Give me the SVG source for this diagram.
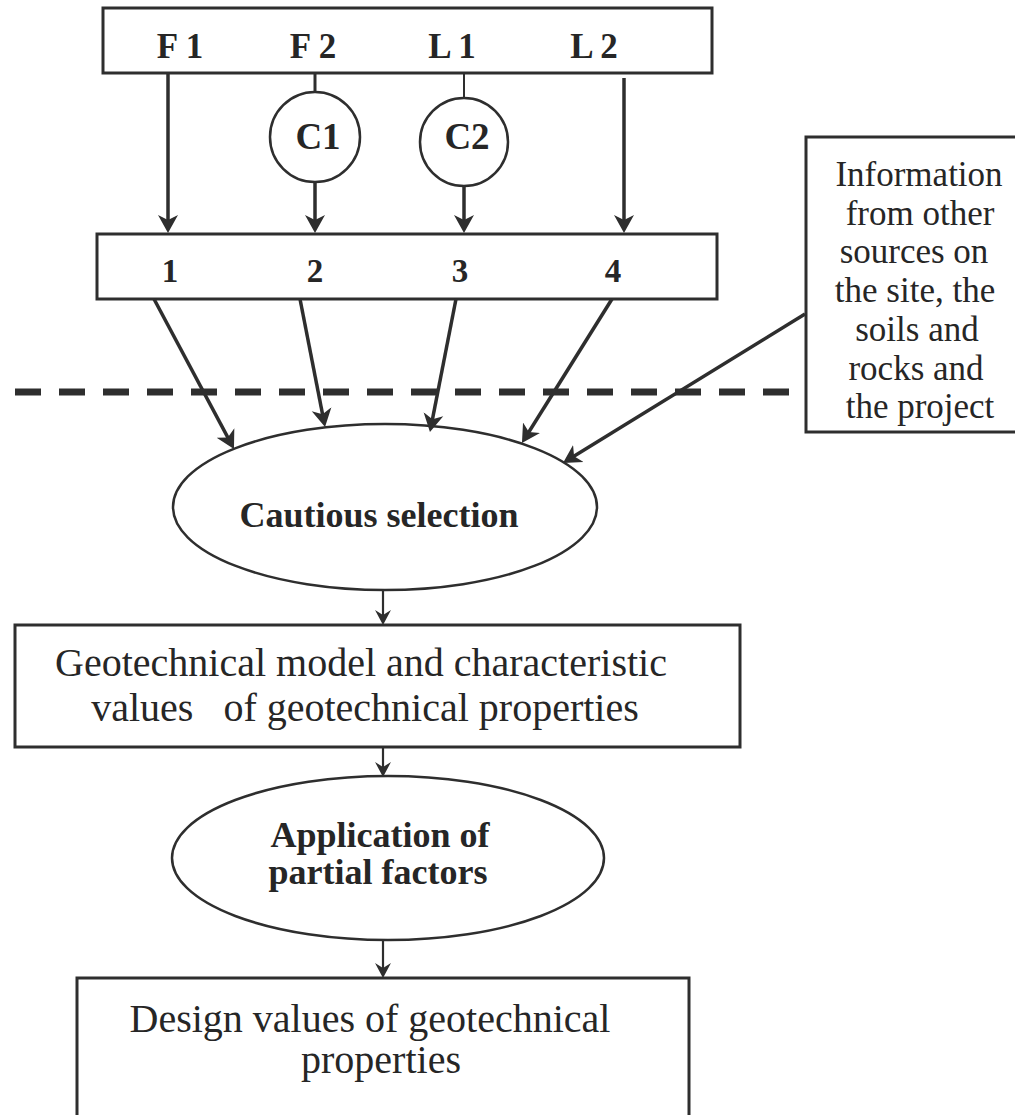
<svg xmlns="http://www.w3.org/2000/svg" width="1015" height="1115" viewBox="0 0 1015 1115">
<style>
.box{fill:#fff;stroke:#2e2e2e;stroke-width:3}
.shape{fill:#fff;stroke:#2e2e2e;stroke-width:2.5}
.t{font-family:"Liberation Serif","Times New Roman",serif;fill:#262626;text-anchor:middle}
.b{font-weight:bold}
.big{stroke:#2e2e2e;stroke-width:3.5;fill:none;marker-end:url(#ah)}
.small{stroke:#2e2e2e;stroke-width:2.2;fill:none;marker-end:url(#as)}
.ln{stroke:#2e2e2e;fill:none}
</style>
<defs>
<marker id="ah" markerUnits="userSpaceOnUse" markerWidth="20" markerHeight="22" viewBox="0 -11 20 22" refX="10" refY="0" orient="auto">
<path d="M0,-10 L18,0 L0,10 L5,0 z" fill="#2e2e2e"/>
</marker>
<marker id="as" markerUnits="userSpaceOnUse" markerWidth="18" markerHeight="18" viewBox="0 -9 18 18" refX="9" refY="0" orient="auto">
<path d="M0,-8 L15,0 L0,8 L5,0 z" fill="#2e2e2e"/>
</marker>
</defs>

<g id="top-box">
<rect class="box" x="103" y="8" width="609" height="65"/>
<text class="t b" x="180" y="58" font-size="35">F 1</text>
<text class="t b" x="313" y="58" font-size="35">F 2</text>
<text class="t b" x="452" y="58" font-size="35">L 1</text>
<text class="t b" x="594" y="58" font-size="35">L 2</text>
</g>

<g id="c1">
<circle class="shape" cx="315" cy="137" r="45"/>
<text class="t b" x="318" y="149" font-size="37">C1</text>
</g>
<g id="c2">
<circle class="shape" cx="464" cy="142" r="44"/>
<text class="t b" x="467" y="149" font-size="37">C2</text>
</g>

<g id="mid-box">
<rect class="box" x="97" y="234" width="620" height="65"/>
<text class="t b" x="170" y="282" font-size="33">1</text>
<text class="t b" x="315" y="282" font-size="33">2</text>
<text class="t b" x="460" y="282" font-size="33">3</text>
<text class="t b" x="613" y="282" font-size="33">4</text>
</g>

<g id="info-box">
<rect class="box" x="806" y="137" width="215" height="295"/>
<text class="t" x="919" y="186" font-size="35">Information</text>
<text class="t" x="920" y="224.7" font-size="35">from other</text>
<text class="t" x="914" y="263.4" font-size="35">sources on</text>
<text class="t" x="915" y="302" font-size="35">the site, the</text>
<text class="t" x="917" y="340.8" font-size="35">soils and</text>
<text class="t" x="916" y="379.5" font-size="35">rocks and</text>
<text class="t" x="920" y="418" font-size="35">the project</text>
</g>

<g id="cautious">
<ellipse class="shape" cx="385" cy="507" rx="212" ry="83"/>
<text class="t b" x="379" y="527" font-size="36">Cautious selection</text>
</g>

<g id="geo-model">
<rect class="box" x="15" y="625" width="725" height="122"/>
<text class="t" x="361" y="676" font-size="40">Geotechnical model and characteristic</text>
<text class="t" x="365" y="721" font-size="40" xml:space="preserve">values   of geotechnical properties</text>
</g>

<g id="partial">
<ellipse class="shape" cx="388" cy="858" rx="216" ry="82"/>
<text class="t b" x="380" y="847" font-size="36">Application of</text>
<text class="t b" x="378" y="884" font-size="36">partial factors</text>
</g>

<g id="design">
<rect class="box" x="77" y="978" width="612" height="160"/>
<text class="t" x="370" y="1032" font-size="40">Design values of geotechnical</text>
<text class="t" x="381" y="1073" font-size="40">properties</text>
</g>

<g id="connectors">
<line class="big" x1="168" y1="73" x2="168" y2="225"/>
<line class="ln" stroke-width="3" x1="315" y1="73" x2="315" y2="92"/>
<line class="big" x1="315" y1="182" x2="315" y2="225"/>
<line class="ln" stroke-width="2" x1="464" y1="73" x2="464" y2="98"/>
<line class="big" stroke-width="2.6" x1="464" y1="186" x2="464" y2="225"/>
<line class="big" stroke-width="2.6" x1="624" y1="78" x2="624" y2="225"/>
<line class="big" x1="154" y1="299" x2="230.2" y2="441.9"/>
<line class="big" x1="300" y1="299" x2="323.5" y2="419.1"/>
<line class="big" x1="456" y1="299" x2="431.5" y2="424.1"/>
<line class="big" x1="612" y1="299" x2="526.2" y2="436.2"/>
<line class="big" stroke-width="3" x1="805" y1="314" x2="569.8" y2="458.8"/>
<line x1="15" y1="392" x2="790" y2="392" stroke="#2e2e2e" stroke-width="7" stroke-dasharray="26 18"/>
<line class="small" x1="383" y1="590" x2="383" y2="619"/>
<line class="small" x1="383" y1="747" x2="383" y2="771"/>
<line class="small" x1="383" y1="940" x2="383" y2="972"/>
</g>
</svg>
